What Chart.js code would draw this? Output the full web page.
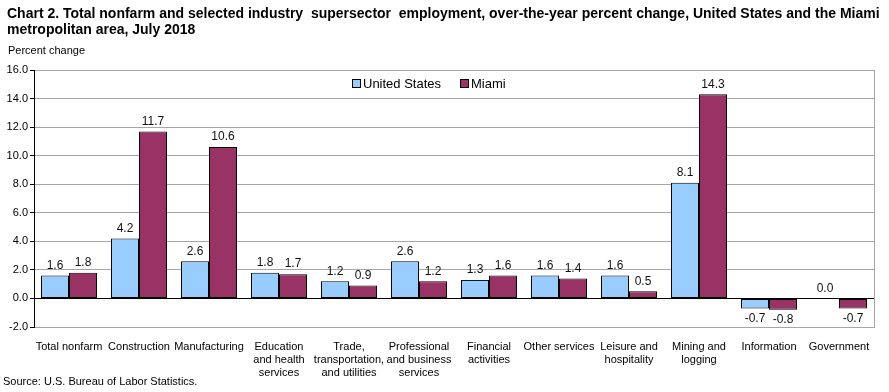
<!DOCTYPE html>
<html>
<head>
<meta charset="utf-8">
<script src="https://cdn.jsdelivr.net/npm/chart.js@4.4.1/dist/chart.umd.min.js"></script>
<style>
    body { margin: 0; background: #fff; font-family: Arial, "Liberation Sans", sans-serif; }
    #wrap { position: relative; width: 889px; height: 392px; }
    #title { position: absolute; left: 7px; top: 5px; width: 880px; font-family: "Liberation Sans Narrow", "Arial Narrow", Arial, sans-serif; font-weight: bold; font-size: 14px; line-height: 16px; color: #000; }
    #ylabel { position: absolute; left: 8px; top: 44px; font-size: 11px; color: #000; }
    #source { position: absolute; left: 3px; top: 375px; font-size: 11px; color: #000; }
    canvas { position: absolute; left: 0; top: 0; }
</style>
</head>
<body>
<div id="wrap">
    <canvas id="chart" width="889" height="392"></canvas>
    <div id="title">Chart 2. Total nonfarm and selected industry&nbsp; supersector&nbsp; employment, over-the-year percent change, United States and the Miami metropolitan area, July 2018</div>
    <div id="ylabel">Percent change</div>
    <div id="source">Source: U.S. Bureau of Labor Statistics.</div>
</div>
<script>
// Categories and series
const categories = [
    ['Total nonfarm'],
    ['Construction'],
    ['Manufacturing'],
    ['Education', 'and health', 'services'],
    ['Trade,', 'transportation,', 'and utilities'],
    ['Professional', 'and business', 'services'],
    ['Financial', 'activities'],
    ['Other services'],
    ['Leisure and', 'hospitality'],
    ['Mining and', 'logging'],
    ['Information'],
    ['Government'],
];
const unitedStates = [1.6, 4.2, 2.6, 1.8, 1.2, 2.6, 1.3, 1.6, 1.6, 8.1, -0.7, 0.0];
const miami = [1.8, 11.7, 10.6, 1.7, 0.9, 1.2, 1.6, 1.4, 0.5, 14.3, -0.8, -0.7];
const yTicks = [-2, 0, 2, 4, 6, 8, 10, 12, 14, 16];

// Frame around the plot area (gray top/right/bottom)
const framePlugin = {
    id: 'frame',
    beforeDatasetsDraw(chart) {
        const { ctx, chartArea: a } = chart;
        ctx.save();
        ctx.strokeStyle = '#a6a6a6';
        ctx.lineWidth = 1;
        ctx.strokeRect(a.left + 0.5, a.top + 0.5, a.right - a.left, a.bottom - a.top);
        ctx.restore();
    },
    afterDatasetsDraw(chart) {
        const { ctx, chartArea: a, scales } = chart;
        const y0 = Math.round(scales.y.getPixelForValue(0)) + 0.5;
        ctx.save();
        ctx.strokeStyle = '#000';
        ctx.lineWidth = 1;
        ctx.beginPath();
        ctx.moveTo(a.left, y0);
        ctx.lineTo(a.right, y0);
        ctx.moveTo(a.left + 0.5, a.top);
        ctx.lineTo(a.left + 0.5, a.bottom + 1);
        ctx.stroke();
        ctx.restore();
    }
};

// Value labels above (or below) each bar
const valueLabels = {
    id: 'valueLabels',
    afterDatasetsDraw(chart) {
        const { ctx } = chart;
        ctx.save();
        ctx.font = '12px Arial, "Liberation Sans", sans-serif';
        ctx.fillStyle = '#111';
        ctx.textAlign = 'center';
        chart.data.datasets.forEach((ds, i) => {
            chart.getDatasetMeta(i).data.forEach((bar, j) => {
                const v = ds.data[j];
                if (v < 0) {
                    ctx.textBaseline = 'top';
                    ctx.fillText(v.toFixed(1), bar.x, bar.y + 4);
                } else {
                    ctx.textBaseline = 'bottom';
                    ctx.fillText(v.toFixed(1), bar.x, bar.y - 4);
                }
            });
        });
        ctx.restore();
    }
};

// Legend drawn inside the plot area
const insideLegend = {
    id: 'insideLegend',
    afterDraw(chart) {
        const { ctx, chartArea: a } = chart;
        const items = [
            { x: a.left + 318, ds: chart.data.datasets[0] },
            { x: a.left + 426, ds: chart.data.datasets[1] },
        ];
        ctx.save();
        ctx.font = '13px Arial, "Liberation Sans", sans-serif';
        ctx.textBaseline = 'middle';
        ctx.textAlign = 'left';
        const y = a.top + 14;
        items.forEach(it => {
            ctx.fillStyle = it.ds.backgroundColor;
            ctx.fillRect(it.x + 0.5, y - 4.5, 8, 8);
            ctx.strokeStyle = '#000';
            ctx.lineWidth = 1;
            ctx.strokeRect(it.x + 0.5, y - 4.5, 8, 8);
            ctx.fillStyle = '#000';
            ctx.fillText(it.ds.label, it.x + 11, y);
        });
        ctx.restore();
    }
};

new Chart(document.getElementById('chart'), {
    type: 'bar',
    data: {
        labels: categories,
        datasets: [
            {
                label: 'United States',
                data: unitedStates,
                backgroundColor: '#99ccff',
                borderColor: '#000',
                borderWidth: 1,
                borderSkipped: false,
            },
            {
                label: 'Miami',
                data: miami,
                backgroundColor: '#993366',
                borderColor: '#000',
                borderWidth: 1,
                borderSkipped: false,
            },
        ],
    },
    options: {
        responsive: false,
        animation: false,
        layout: { padding: { left: 0, top: 70, right: 15, bottom: 0 } },
        datasets: { bar: { categoryPercentage: 0.8, barPercentage: 1.0 } },
        plugins: {
            legend: { display: false },
            tooltip: { enabled: false },
        },
        scales: {
            x: {
                grid: { display: false },
                border: { display: false },
                ticks: {
                    color: '#000',
                    font: { family: 'Arial, "Liberation Sans", sans-serif', size: 11 },
                    maxRotation: 0,
                    autoSkip: false,
                    padding: 5,
                },
                afterFit(scale) { scale.height = 65; },
            },
            y: {
                min: -2,
                max: 16,
                afterBuildTicks(scale) { scale.ticks = yTicks.map(v => ({ value: v })); },
                grid: {
                    color: '#a6a6a6',
                    drawTicks: true,
                    tickLength: 4,
                    tickColor: '#000',
                },
                border: { display: false },
                ticks: {
                    color: '#000',
                    font: { family: 'Arial, "Liberation Sans", sans-serif', size: 11 },
                    padding: 2,
                    callback: v => v.toFixed(1),
                },
                afterFit(scale) { scale.width = 34; },
            },
        },
    },
    plugins: [framePlugin, valueLabels, insideLegend],
});
</script>
</body>
</html>
